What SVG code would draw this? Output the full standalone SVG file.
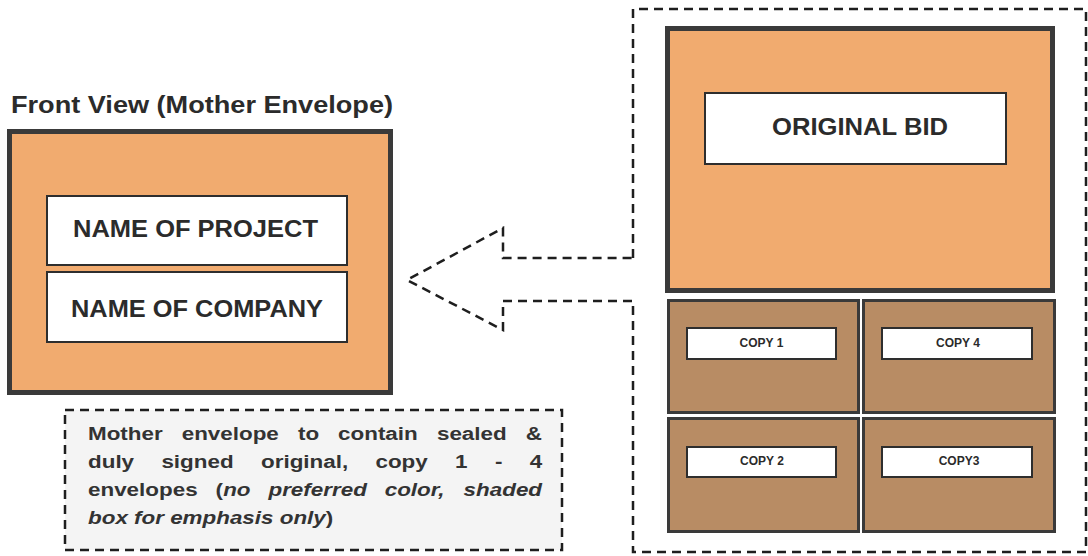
<svg xmlns="http://www.w3.org/2000/svg" width="1088" height="556" viewBox="0 0 1088 556">
<style>
.env{fill:#f1ab6f;stroke:#3a3a3a;stroke-width:5}
.copy{fill:#b88c64;stroke:#3a3a3a;stroke-width:3}
.lbl{fill:#ffffff;stroke:#2e2e2e;stroke-width:2}
.t{font-family:"Liberation Sans",Arial,sans-serif;font-weight:bold;fill:#2b2b2b}
.n{font-family:"Liberation Sans",Arial,sans-serif;font-weight:bold;fill:#333;font-size:19px}
.i{font-style:italic}
.dash{fill:none;stroke:#1e1e1e;stroke-width:2.5;stroke-dasharray:9 6}
</style>
<rect width="1088" height="556" fill="#ffffff"/>
<g id="title">
<text class="t" x="11" y="113" font-size="23" textLength="382" lengthAdjust="spacingAndGlyphs" fill="#333">Front View (Mother Envelope)</text>
</g>
<g id="mother-envelope">
<rect class="env" x="9.5" y="131.5" width="381" height="261"/>
<rect class="lbl" x="47" y="196" width="300" height="69"/>
<text class="t" x="73" y="237" font-size="23" textLength="245" lengthAdjust="spacingAndGlyphs">NAME OF PROJECT</text>
<rect class="lbl" x="47" y="272" width="300" height="70"/>
<text class="t" x="71" y="317" font-size="23" textLength="252" lengthAdjust="spacingAndGlyphs">NAME OF COMPANY</text>
</g>
<g id="note">
<rect x="65" y="410" width="497" height="140" fill="#f4f4f4" stroke="#1e1e1e" stroke-width="2.5" stroke-dasharray="9 6"/>
<g transform="scale(1.18,1)">
<text class="n" y="440"><tspan x="74.6">Mother</tspan><tspan x="154">envelope</tspan><tspan x="252.5">to</tspan><tspan x="286.5">contain</tspan><tspan x="370.3">sealed</tspan><tspan x="445.5">&amp;</tspan></text>
<text class="n" y="468"><tspan x="74.6">duly</tspan><tspan x="136.8">signed</tspan><tspan x="221.2">original,</tspan><tspan x="318.2">copy</tspan><tspan x="385.7">1</tspan><tspan x="419.4">-</tspan><tspan x="448.9">4</tspan></text>
<text class="n" y="496"><tspan x="74.6">envelopes</tspan><tspan x="182.7">(</tspan><tspan x="189.1" class="i">no</tspan><tspan x="227.5" class="i">preferred</tspan><tspan x="326" class="i">color,</tspan><tspan x="392.9" class="i">shaded</tspan></text>
<text class="n" y="524"><tspan x="74.6" class="i">box for emphasis only</tspan><tspan>)</tspan></text>
</g>
</g>
<g id="connectors">
<path class="dash" d="M633,258 L633,9 L1086,9 L1086,552 L633,552 L633,301 L503,301 L503,330 L407,280 L503,228 L503,258 Z"/>
</g>
<g id="original-bid">
<rect class="env" x="667.5" y="28.5" width="385" height="262"/>
<rect class="lbl" x="705" y="93" width="301" height="71"/>
<text class="t" x="772" y="135" font-size="23" textLength="176" lengthAdjust="spacingAndGlyphs">ORIGINAL BID</text>
</g>
<g id="copy-1">
<rect class="copy" x="668.5" y="300.5" width="190" height="112"/>
<rect class="lbl" x="687" y="328" width="149" height="31"/>
<text class="t" x="761.5" y="347" font-size="12" text-anchor="middle">COPY 1</text>
</g>
<g id="copy-4">
<rect class="copy" x="863.5" y="300.5" width="191" height="112"/>
<rect class="lbl" x="882" y="328" width="150" height="31"/>
<text class="t" x="958" y="347" font-size="12" text-anchor="middle">COPY 4</text>
</g>
<g id="copy-2">
<rect class="copy" x="668.5" y="418.5" width="190" height="113"/>
<rect class="lbl" x="687" y="447" width="149" height="30"/>
<text class="t" x="762" y="465" font-size="12" text-anchor="middle">COPY 2</text>
</g>
<g id="copy-3">
<rect class="copy" x="863.5" y="418.5" width="191" height="113"/>
<rect class="lbl" x="882" y="447" width="150" height="30"/>
<text class="t" x="959" y="465" font-size="12" text-anchor="middle">COPY3</text>
</g>
</svg>
